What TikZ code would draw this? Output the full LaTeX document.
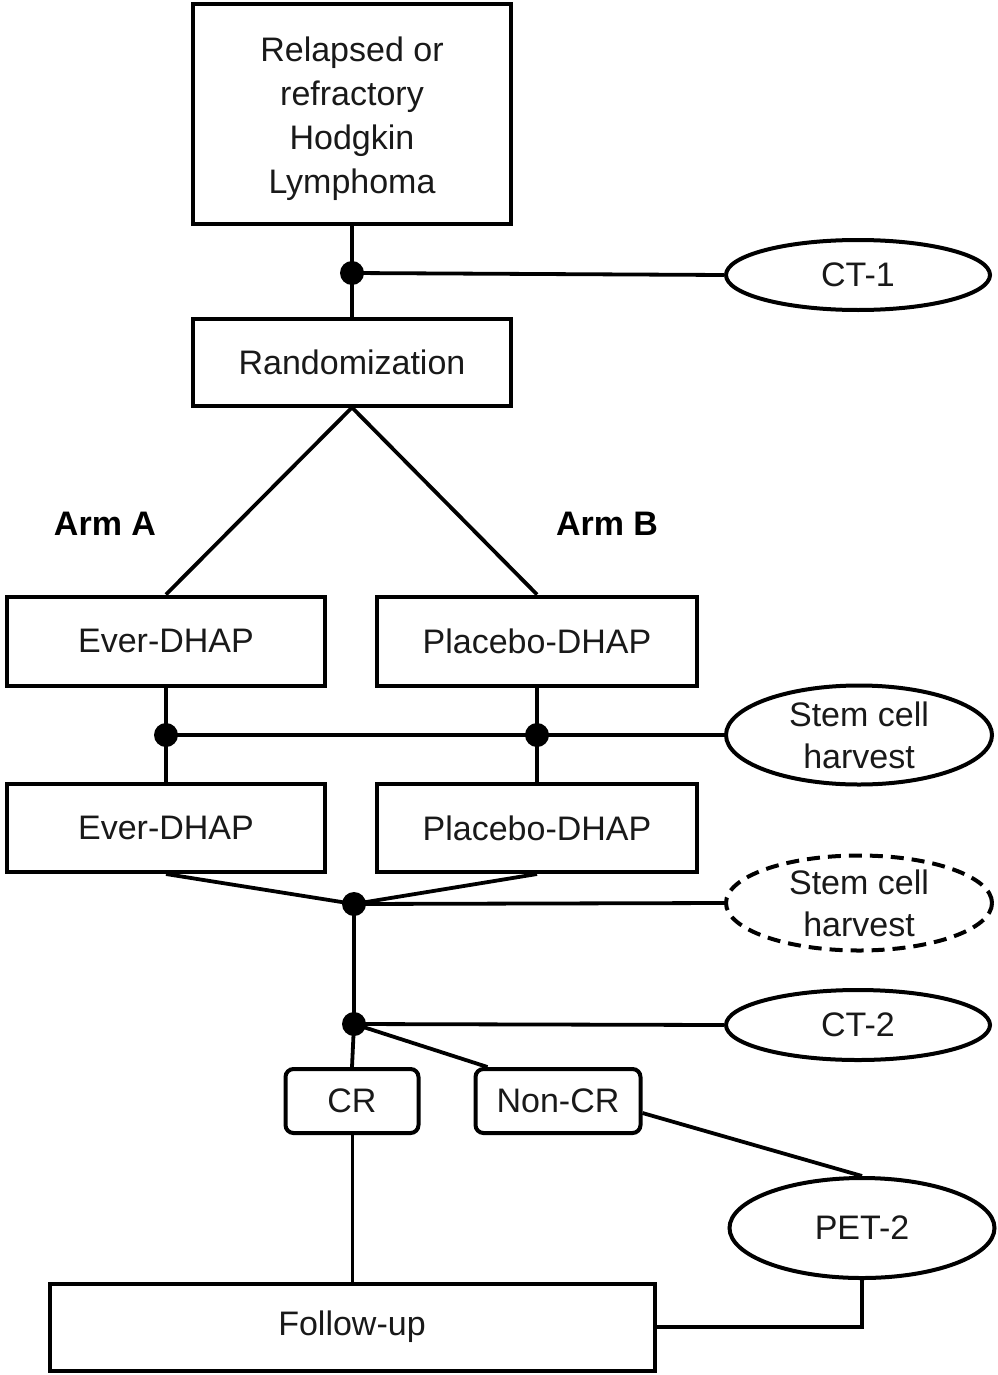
\documentclass[tikz,border=0pt]{standalone}
\usepackage{fontspec}
\setmainfont{Liberation Sans}
\usetikzlibrary{shapes.geometric}
\begin{document}
\begin{tikzpicture}[x=1pt,y=-1pt,
  every node/.style={font=\fontsize{34}{44}\selectfont, text=black!90},
  box/.style={draw, line width=4pt, rectangle, inner sep=0pt, align=center},
  rbox/.style={box, rounded corners=8pt},
  oval/.style={draw, line width=4pt, ellipse, inner sep=0pt, align=center},
  conn/.style={line width=3.8pt},
  jdot/.style={circle, fill=black, inner sep=0pt, minimum size=24pt},
  armlabel/.style={font=\fontsize{34}{44}\selectfont\bfseries, text=black}
]
\useasboundingbox[fill=white] (0,0) rectangle (997,1375);

% nodes
\node[box, minimum width=318pt, minimum height=220pt] (top) at (352,114) {};
\node[align=center] (toptext) at (352,119) {Relapsed or\\refractory\\Hodgkin\\Lymphoma};
\node[box, minimum width=318pt, minimum height=87pt] (rand) at (352,362) {Randomization};
\node[oval, minimum width=264pt, minimum height=70pt] (ct1) at (858,275) {CT-1};

\node[armlabel] (arma) at (105,524) {Arm A};
\node[armlabel] (armb) at (607,524) {Arm B};

\node[box, minimum width=318pt, minimum height=89pt] (ed1) at (166,641) {Ever-DHAP};
\node[box, minimum width=320pt, minimum height=89pt] (pd1) at (537,641) {Placebo-DHAP};
\node[box, minimum width=318pt, minimum height=88pt] (ed2) at (166,828) {Ever-DHAP};
\node[box, minimum width=320pt, minimum height=88pt] (pd2) at (537,828) {Placebo-DHAP};

\node[oval, minimum width=266pt, minimum height=99pt, font=\fontsize{34}{42}\selectfont] (sc1) at (859,735) {Stem cell\\harvest};
\node[oval, dashed, dash pattern=on 13pt off 8pt, minimum width=266pt, minimum height=95pt, font=\fontsize{34}{42}\selectfont] (sc2) at (859,903) {Stem cell\\harvest};
\node[oval, minimum width=264pt, minimum height=70pt] (ct2) at (858,1025) {CT-2};

\node[rbox, minimum width=133pt, minimum height=64pt] (cr) at (352,1101) {CR};
\node[rbox, minimum width=165pt, minimum height=64pt] (ncr) at (558,1101) {Non-CR};
\node[oval, minimum width=265pt, minimum height=100pt] (pet) at (862,1228) {PET-2};
\node[box, minimum width=605pt, minimum height=87pt] (fu) at (352,1327) {Follow-up};

% junctions
\coordinate (j1) at (352,273);
\coordinate (j2) at (166,735);
\coordinate (j3) at (537,735);
\coordinate (j4) at (354,904);
\coordinate (j5) at (354,1024);

% connectors
\draw[conn] (top.south) -- (j1) -- (rand.north);
\draw[conn] (j1) -- (ct1.west);
\draw[conn] (rand.south) -- (ed1.north);
\draw[conn] (rand.south) -- (pd1.north);
\draw[conn] (ed1.south) -- (j2) -- (ed2.north);
\draw[conn] (pd1.south) -- (j3) -- (pd2.north);
\draw[conn] (j2) -- (j3) -- (sc1.west);
\draw[conn] (ed2.south) -- (j4);
\draw[conn] (pd2.south) -- (j4);
\draw[conn] (j4) -- (sc2.west);
\draw[conn] (j4) -- (j5);
\draw[conn] (j5) -- (ct2.west);
\draw[conn] (j5) -- (cr.north);
\draw[conn] (j5) -- ([xshift=14pt]ncr.north west);
\draw[conn] ([yshift=-12pt]ncr.east) -- (pet.north);
\draw[conn] (pet.south) -- (pet.south |- fu.east) -- (fu.east);
\draw[line width=3pt] (cr.south) -- (cr.south |- fu.north);

% dots
\foreach \j in {j1,j2,j3,j4,j5} \node[jdot] at (\j) {};
\end{tikzpicture}
\end{document}
